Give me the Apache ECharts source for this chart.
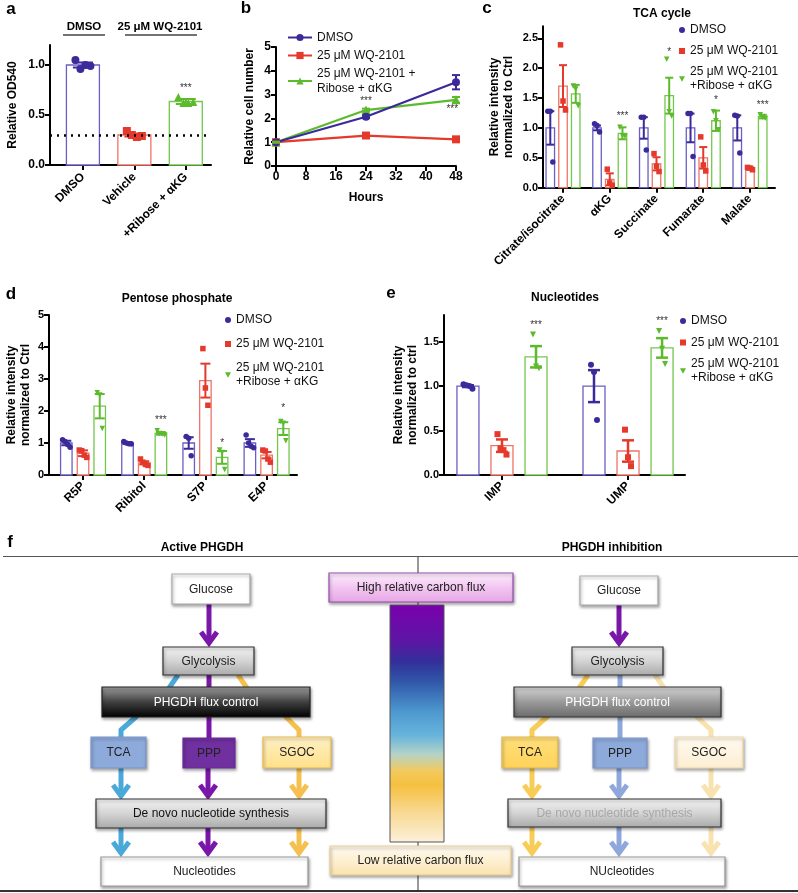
<!DOCTYPE html>
<html><head><meta charset="utf-8">
<script src="https://cdn.jsdelivr.net/npm/echarts@6.0.0/dist/echarts.min.js"></script>
<style>html,body{margin:0;padding:0;background:#fff}#chart{width:798px;height:893px}</style>
</head><body><div id="chart"></div>
<script>
// ---------------- DATA ----------------
const groupLabels = ['DMSO', '25 μM WQ-2101', '25 μM WQ-2101\n+Ribose + αKG'];
const groupLabelsB = ['DMSO', '25 μM WQ-2101', '25 μM WQ-2101 +\nRibose + αKG'];

// panel a
const aCategories = ['DMSO', 'Vehicle', '+Ribose + αKG'];
const aMeans = [1.00, 0.30, 0.635];
const aSem = [0.025, 0.015, 0.025];
const aPoints = [[1.05, 0.96, 1.00, 0.99], [0.34, 0.30, 0.28, 0.29], [0.68, 0.62, 0.62, 0.63]];
const aThreshold = 0.3;
const aStarCat = [2];
const aStarY = [0.77];
const aStarText = ['***'];

// panel b
const bHours = [0, 24, 48];
const bDMSO = [1.0, 2.07, 3.52];
const bDMSOSem = [0.03, 0.06, 0.30];
const bWQ = [1.0, 1.28, 1.12];
const bWQSem = [0.02, 0.06, 0.05];
const bRescue = [1.0, 2.35, 2.78];
const bRescueSem = [0.02, 0.06, 0.12];
const bStarX = [24, 47];
const bStarY = [2.74, 2.38];
const bStarText = ['***', '***'];

// panel c
const cCategories = ['Citrate/isocitrate', 'αKG', 'Succinate', 'Fumarate', 'Malate'];
const cDMSOMean = [1.0, 1.0, 1.0, 1.0, 1.0];
const cDMSOSem = [0.28, 0.04, 0.18, 0.24, 0.21];
const cDMSOPoints = [[1.28, 1.28, 0.43], [1.07, 1.04, 0.93], [1.18, 1.18, 0.63], [1.24, 1.24, 0.52], [1.21, 1.20, 0.58]];
const cWQMean = [1.70, 0.14, 0.40, 0.50, 0.32];
const cWQSem = [0.35, 0.10, 0.11, 0.18, 0.02];
const cWQPoints = [[2.39, 1.45, 1.30], [0.31, 0.08, 0.04], [0.57, 0.36, 0.27], [0.85, 0.38, 0.28], [0.34, 0.33, 0.30]];
const cRescueMean = [1.57, 0.91, 1.54, 1.12, 1.19];
const cRescueSem = [0.15, 0.10, 0.30, 0.17, 0.03];
const cRescuePoints = [[1.70, 1.65, 1.37], [1.01, 0.87, 0.86], [2.15, 1.27, 1.20], [1.27, 1.12, 0.97], [1.22, 1.18, 1.16]];
const cStarCat = [1, 2, 3, 4];
const cStarY = [1.20, 2.27, 1.47, 1.38];
const cStarText = ['***', '*', '*', '***'];

// panel d
const dCategories = ['R5P', 'Ribitol', 'S7P', 'E4P'];
const dDMSOMean = [1.0, 1.0, 1.0, 1.0];
const dDMSOSem = [0.07, 0.03, 0.18, 0.12];
const dDMSOPoints = [[1.10, 1.05, 0.95, 0.87], [1.05, 1.00, 0.98, 0.97], [1.20, 1.15, 0.60], [1.25, 1.00, 0.90, 0.85]];
const dWQMean = [0.68, 0.38, 2.95, 0.62];
const dWQSem = [0.09, 0.05, 0.53, 0.10];
const dWQPoints = [[0.78, 0.76, 0.62, 0.55], [0.50, 0.40, 0.33, 0.30], [3.95, 2.72, 2.18], [0.78, 0.75, 0.50, 0.40]];
const dRescueMean = [2.15, 1.30, 0.55, 1.45];
const dRescueSem = [0.38, 0.04, 0.20, 0.20];
const dRescuePoints = [[2.57, 2.50, 1.45], [1.38, 1.30, 1.28, 1.25], [0.78, 0.70, 0.17], [1.67, 1.62, 1.07]];
const dStarCat = [1, 2, 3];
const dStarY = [1.72, 1.00, 2.10];
const dStarText = ['***', '*', '*'];

// panel e
const eCategories = ['IMP', 'UMP'];
const eDMSOMean = [1.0, 1.0];
const eDMSOSem = [0.01, 0.18];
const eDMSOPoints = [[1.02, 1.01, 1.00, 0.97], [1.24, 1.16, 0.62]];
const eWQMean = [0.33, 0.27];
const eWQSem = [0.07, 0.12];
const eWQPoints = [[0.46, 0.30, 0.28, 0.23], [0.51, 0.20, 0.10]];
const eRescueMean = [1.33, 1.43];
const eRescueSem = [0.12, 0.11];
const eRescuePoints = [[1.58, 1.22, 1.20], [1.62, 1.42, 1.25]];
const eStarCat = [0, 1];
const eStarY = [1.68, 1.73];
const eStarText = ['***', '***'];

// ---------------- STYLE ----------------
const FONT = '"Liberation Sans", Arial, Helvetica, sans-serif';
const COL = ['#3b2a9a', '#e4392b', '#5cba2d'];
const BORDER = ['#6a5fc3', '#ec7468', '#74c74c'];
const TRI_DOWN = 'path://M0,0 L10,0 L5,9 Z';

const series = [];
const grids = [];
const xAxes = [];
const yAxes = [];
const legends = [];
const G = [];

function baseAxis() {
  return {
    axisLine: {show: true, onZero: false, lineStyle: {color: '#000', width: 2}},
    axisTick: {show: true, length: 5, lineStyle: {color: '#000', width: 2}},
    splitLine: {show: false},
    axisLabel: {color: '#000', fontWeight: 'bold', fontSize: 11, fontFamily: FONT, margin: 5}
  };
}

function textEl(p, txt, opt) {
  return {type: 'text', x: p[0], y: p[1], style: Object.assign({
    text: txt, fill: '#333', font: '11px ' + FONT,
    align: 'center', textAlign: 'center', verticalAlign: 'middle', textVerticalAlign: 'middle'
  }, opt || {})};
}

function addBarPanel(P) {
  const nG = P.groups.length;
  const xOf = (i, g) => i + (g - (nG - 1) / 2) * P.offset;
  const barData = [];
  P.groups.forEach((grp, g) => grp.mean.forEach((m, i) => barData.push([xOf(i, g), m, grp.sem[i], g])));
  series.push({
    type: 'custom', coordinateSystem: 'cartesian2d', xAxisIndex: P.gi, yAxisIndex: P.gi, data: barData, z: 2,
    renderItem: (params, api) => {
      const x = api.value(0), m = api.value(1), g = api.value(3);
      const top = api.coord([x, m]), base = api.coord([x, 0]);
      return {type: 'rect', shape: {x: top[0] - P.barW / 2, y: top[1], width: P.barW, height: base[1] - top[1]},
        style: {fill: '#fff', stroke: P.borders[g], lineWidth: 1.3}};
    }
  });
  P.groups.forEach((grp, g) => {
    const data = [];
    grp.points.forEach((pts, i) => pts.forEach((v, k) => data.push({
      value: [xOf(i, g), v], symbolOffset: [(k - (pts.length - 1) / 2) * P.spread, 0]
    })));
    const s = {
      type: 'scatter', xAxisIndex: P.gi, yAxisIndex: P.gi, data, symbol: P.symbols[g], symbolSize: P.ptSize,
      itemStyle: {color: P.colors[g], opacity: 1}, z: 3, silent: true
    };
    if (P.prefix) s.name = P.prefix + '|' + g;
    if (P.markLine && g === 0) s.markLine = P.markLine;
    series.push(s);
  });
  series.push({
    type: 'custom', coordinateSystem: 'cartesian2d', xAxisIndex: P.gi, yAxisIndex: P.gi, data: barData, z: 4,
    renderItem: (params, api) => {
      const x = api.value(0), m = api.value(1), s = api.value(2), g = api.value(3);
      const t = api.coord([x, m + s]), b = api.coord([x, m - s]);
      const c = P.colors[g], hw = P.capW / 2, lw = P.errW;
      return {type: 'group', children: [
        {type: 'line', shape: {x1: t[0], y1: t[1], x2: b[0], y2: b[1]}, style: {stroke: c, lineWidth: lw}},
        {type: 'line', shape: {x1: t[0] - hw, y1: t[1], x2: t[0] + hw, y2: t[1]}, style: {stroke: c, lineWidth: lw}},
        {type: 'line', shape: {x1: b[0] - hw, y1: b[1], x2: b[0] + hw, y2: b[1]}, style: {stroke: c, lineWidth: lw}}
      ]};
    }
  });
  const starData = P.stars.cat.map((c, k) => [P.stars.group < 0 ? c - 1 : xOf(c, P.stars.group), P.stars.y[k], k]);
  series.push({
    type: 'custom', coordinateSystem: 'cartesian2d', xAxisIndex: P.gi, yAxisIndex: P.gi, data: starData, z: 5,
    renderItem: (params, api) => textEl(api.coord([api.value(0), api.value(1)]), P.stars.text[api.value(2)], {font: '10px ' + FONT})
  });
}

function catXAxis(gi, min, max, vals, names, fs, margin) {
  const ax = baseAxis();
  ax.type = 'value'; ax.gridIndex = gi; ax.min = min; ax.max = max;
  ax.axisTick.customValues = vals;
  ax.axisLabel.customValues = vals;
  ax.axisLabel.rotate = 45;
  ax.axisLabel.fontSize = fs;
  ax.axisLabel.margin = margin;
  ax.axisLabel.formatter = v => names[vals.indexOf(v)];
  return ax;
}
function valYAxis(gi, max, vals, digits, name, gap) {
  const ax = baseAxis();
  ax.type = 'value'; ax.gridIndex = gi; ax.min = 0; ax.max = max;
  ax.axisTick.customValues = vals;
  ax.axisLabel.customValues = vals;
  ax.axisLabel.formatter = v => v.toFixed(digits);
  ax.name = name; ax.nameLocation = 'middle'; ax.nameGap = gap; ax.nameRotate = 90;
  ax.nameTextStyle = {color: '#000', fontWeight: 'bold', fontSize: 12, lineHeight: 14, fontFamily: FONT};
  return ax;
}
function legendFor(prefix, labels, left, top, gap, iw, ih, lh) {
  return {
    left, top, orient: 'vertical', itemGap: gap, itemWidth: iw, itemHeight: ih, padding: 0, selectedMode: false,
    data: [0, 1, 2].map(i => prefix + '|' + i),
    formatter: n => labels[+n.split('|')[1]],
    textStyle: {fontSize: 12, lineHeight: lh || 14, color: '#111', fontFamily: FONT}
  };
}

// ---------- panel a (grid 0) ----------
grids.push({left: 50, top: 45, width: 161, height: 120, outerBoundsMode: 'none'});
xAxes.push(catXAxis(0, -1.64, 1.49, [-1, 0, 1], aCategories, 12, 10));
yAxes.push(valYAxis(0, 1.2, [0, 0.5, 1.0], 1, 'Relative OD540', 30));
yAxes[0].axisLabel.fontSize = 12;
addBarPanel({
  gi: 0, offset: 1, barW: 33, capW: 20, ptSize: 8, spread: 5, errW: 2,
  groups: aMeans.map((m, i) => ({mean: [m], sem: [aSem[i]], points: [aPoints[i]]})),
  colors: COL, borders: BORDER, symbols: ['circle', 'rect', 'triangle'],
  stars: {cat: aStarCat, group: -1, y: aStarY, text: aStarText},
  markLine: {silent: true, symbol: 'none', label: {show: false},
    lineStyle: {color: '#000', width: 2.5, type: [2, 5]}, data: [{yAxis: aThreshold}]}
});

// ---------- panel b (grid 1) ----------
grids.push({left: 276, top: 47, width: 180, height: 119, outerBoundsMode: 'none'});
(function () {
  const x = baseAxis();
  x.type = 'value'; x.gridIndex = 1; x.min = 0; x.max = 48; x.interval = 8;
  x.axisLabel.fontSize = 12;
  x.name = 'Hours'; x.nameLocation = 'middle'; x.nameGap = 26;
  x.nameTextStyle = {color: '#000', fontWeight: 'bold', fontSize: 12, fontFamily: FONT};
  xAxes.push(x);
  const y = baseAxis();
  y.type = 'value'; y.gridIndex = 1; y.min = 0; y.max = 5; y.interval = 1;
  y.axisLabel.fontSize = 12;
  y.name = 'Relative cell number'; y.nameLocation = 'middle'; y.nameGap = 20; y.nameRotate = 90;
  y.nameTextStyle = {color: '#000', fontWeight: 'bold', fontSize: 12, fontFamily: FONT};
  yAxes.push(y);
  const defs = [
    {v: bDMSO, s: bDMSOSem, sym: 'circle', size: 8},
    {v: bWQ, s: bWQSem, sym: 'rect', size: 8},
    {v: bRescue, s: bRescueSem, sym: 'triangle', size: 9}
  ];
  const order = [1, 2, 0];
  order.forEach(k => {
    const d = defs[k];
    series.push({
      type: 'line', name: 'b|' + k, xAxisIndex: 1, yAxisIndex: 1,
      data: bHours.map((h, i) => [h, d.v[i]]), symbol: d.sym, symbolSize: d.size,
      lineStyle: {color: COL[k], width: 2.2}, itemStyle: {color: COL[k]}, z: 3 + (k === 0 ? 1 : 0), silent: true
    });
  });
  const errData = [];
  defs.forEach((d, k) => bHours.forEach((h, i) => errData.push([h, d.v[i], d.s[i], k])));
  series.push({
    type: 'custom', coordinateSystem: 'cartesian2d', xAxisIndex: 1, yAxisIndex: 1, data: errData, z: 6,
    renderItem: (params, api) => {
      const x = api.value(0), m = api.value(1), s = api.value(2), k = api.value(3);
      const t = api.coord([x, m + s]), b = api.coord([x, m - s]);
      const c = COL[k], hw = 4;
      return {type: 'group', children: [
        {type: 'line', shape: {x1: t[0], y1: t[1], x2: b[0], y2: b[1]}, style: {stroke: c, lineWidth: 2}},
        {type: 'line', shape: {x1: t[0] - hw, y1: t[1], x2: t[0] + hw, y2: t[1]}, style: {stroke: c, lineWidth: 2}},
        {type: 'line', shape: {x1: b[0] - hw, y1: b[1], x2: b[0] + hw, y2: b[1]}, style: {stroke: c, lineWidth: 2}}
      ]};
    }
  });
  series.push({
    type: 'custom', coordinateSystem: 'cartesian2d', xAxisIndex: 1, yAxisIndex: 1, z: 7,
    data: bStarX.map((h, k) => [h, bStarY[k], k]),
    renderItem: (params, api) => textEl(api.coord([api.value(0), api.value(1)]), bStarText[api.value(2)], {font: '10px ' + FONT})
  });
  legends.push(legendFor('b', groupLabelsB, 287, 30, 3, 24, 9, 15));
})();

// ---------- panel c (grid 2) ----------
grids.push({left: 543, top: 26.3, width: 232, height: 161.4, outerBoundsMode: 'none'});
xAxes.push(catXAxis(2, -0.428, 4.535, [0, 1, 2, 3, 4], cCategories, 12, 9));
yAxes.push(valYAxis(2, 2.7, [0, 0.5, 1.0, 1.5, 2.0, 2.5], 1, 'Relative intensity\nnormalized to Ctrl', 27));
addBarPanel({
  gi: 2, offset: 0.272, barW: 8.5, capW: 8, ptSize: 5.5, spread: 2.5, errW: 2,
  groups: [
    {mean: cDMSOMean, sem: cDMSOSem, points: cDMSOPoints},
    {mean: cWQMean, sem: cWQSem, points: cWQPoints},
    {mean: cRescueMean, sem: cRescueSem, points: cRescuePoints}],
  colors: COL, borders: BORDER, symbols: ['circle', 'rect', TRI_DOWN], prefix: 'c',
  stars: {cat: cStarCat, group: 2, y: cStarY, text: cStarText}
});
legends.push(legendFor('c', groupLabels, 679, 23, 7, 6, 6));

// ---------- panel d (grid 3) ----------
grids.push({left: 49, top: 315, width: 248, height: 160, outerBoundsMode: 'none'});
xAxes.push(catXAxis(3, -0.556, 3.497, [0, 1, 2, 3], dCategories, 12, 9));
yAxes.push(valYAxis(3, 5, [0, 1, 2, 3, 4, 5], 0, 'Relative intensity\nnormalized to Ctrl', 16));
addBarPanel({
  gi: 3, offset: 0.273, barW: 11.5, capW: 10, ptSize: 5.5, spread: 2.5, errW: 2,
  groups: [
    {mean: dDMSOMean, sem: dDMSOSem, points: dDMSOPoints},
    {mean: dWQMean, sem: dWQSem, points: dWQPoints},
    {mean: dRescueMean, sem: dRescueSem, points: dRescuePoints}],
  colors: COL, borders: BORDER, symbols: ['circle', 'rect', TRI_DOWN], prefix: 'd',
  stars: {cat: dStarCat, group: 2, y: dStarY, text: dStarText}
});
legends.push(legendFor('d', groupLabels, 225, 313, 10, 6, 6));

// ---------- panel e (grid 4) ----------
grids.push({left: 444, top: 315, width: 241, height: 160, outerBoundsMode: 'none'});
xAxes.push(catXAxis(4, -0.46, 1.452, [0, 1], eCategories, 12, 9));
yAxes.push(valYAxis(4, 1.8, [0, 0.5, 1.0, 1.5], 1, 'Relative intensity\nnormalized to ctrl', 23));
addBarPanel({
  gi: 4, offset: 0.27, barW: 22, capW: 12, ptSize: 6, spread: 3, errW: 2.5,
  groups: [
    {mean: eDMSOMean, sem: eDMSOSem, points: eDMSOPoints},
    {mean: eWQMean, sem: eWQSem, points: eWQPoints},
    {mean: eRescueMean, sem: eRescueSem, points: eRescuePoints}],
  colors: COL, borders: BORDER, symbols: ['circle', 'rect', TRI_DOWN], prefix: 'e',
  stars: {cat: eStarCat, group: 2, y: eStarY, text: eStarText}
});
legends.push(legendFor('e', groupLabels, 680, 314, 7.5, 6, 6));

// ---------------- GRAPHIC TEXT / DIAGRAM ----------------
function T(x, y, txt, font, fill, z) {
  G.push({type: 'text', x, y, z: z || 20, style: {text: txt, fill: fill || '#000', font,
    align: 'center', textAlign: 'center', verticalAlign: 'middle', textVerticalAlign: 'middle'}});
}
function L(x1, y1, x2, y2, color, w, z) {
  G.push({type: 'line', z: z || 5, shape: {x1, y1, x2, y2}, style: {stroke: color, lineWidth: w}});
}
const BOLD12 = 'bold 12px ' + FONT;
// panel letters
T(11, 9, 'a', 'bold 17px ' + FONT); T(246, 8, 'b', 'bold 17px ' + FONT); T(487, 8, 'c', 'bold 17px ' + FONT);
T(11, 294, 'd', 'bold 17px ' + FONT); T(391, 293, 'e', 'bold 17px ' + FONT); T(10, 542, 'f', 'bold 17px ' + FONT);
// titles
T(662, 14, 'TCA cycle', BOLD12); T(177, 299, 'Pentose phosphate', BOLD12); T(565, 298, 'Nucleotides', BOLD12);
// panel a header
T(84, 27, 'DMSO', 'bold 11.5px ' + FONT); L(63, 35, 105, 35, '#444', 1.5);
T(160, 27, '25 μM WQ-2101', 'bold 11.5px ' + FONT); L(125, 35, 197, 35, '#444', 1.5);

// panel f
T(202, 548, 'Active PHGDH', BOLD12); T(612, 548, 'PHGDH inhibition', BOLD12);
L(3, 556.5, 798, 556.5, '#555', 1.2, 1);
L(418, 557, 418, 891, '#555', 1.2, 1);
L(0, 891, 798, 891, '#333', 2, 1);

function grad(stops) {
  return {type: 'linear', x: 0, y: 0, x2: 0, y2: 1, colorStops: stops.map((c, i) => ({offset: i / (stops.length - 1), color: c}))};
}
function box(x, y, w, h, fill, stroke, txt, tc, shadow) {
  G.push({type: 'rect', z: 10, shape: {x, y, width: w, height: h}, style: {fill, stroke, lineWidth: 1.2,
    shadowBlur: shadow === false ? 0 : 3, shadowOffsetX: 1, shadowOffsetY: 2, shadowColor: 'rgba(0,0,0,0.35)'}});
  if (txt) T(x + w / 2, y + h / 2 + 0.5, txt, '12px ' + FONT, tc || '#222', 11);
}
function arrow(x, y1, y2, color) {
  L(x, y1, x, y2 - 4, color, 5, 6);
  G.push({type: 'polyline', z: 6, shape: {points: [[x - 8, y2 - 15], [x, y2 - 4], [x + 8, y2 - 15]]},
    style: {stroke: color, lineWidth: 5, fill: null, lineJoin: 'miter'}});
}
function conn(points, color) {
  G.push({type: 'polyline', z: 6, shape: {points}, style: {stroke: color, lineWidth: 5, fill: null, lineJoin: 'round'}});
}
const WHITE = '#ffffff';
const GRAYG = grad(['#f4f4f4', '#d4d4d4', '#a9a9a9']);
// Left
const LP = '#7a16a8', LB = '#4aa9d9', LY = '#f5c04f';
arrow(209, 604, 647, LP);
conn([[178, 675], [169, 688]], LB); conn([[209, 675], [209, 688]], LP); conn([[238, 675], [247, 688]], LY);
conn([[137, 716], [121, 730], [121, 738]], LB); conn([[209, 716], [209, 738]], LP); conn([[285, 716], [299, 730], [299, 738]], LY);
arrow(121, 767, 800, LB); arrow(208, 767, 800, LP); arrow(299, 767, 800, LY);
arrow(121, 827, 857, LB); arrow(208, 827, 857, LP); arrow(299, 827, 857, LY);
box(172, 574, 78, 30, WHITE, '#aaaaaa', 'Glucose');
box(163, 647, 91, 28, GRAYG, '#333', 'Glycolysis');
box(102, 687, 208, 30, grad(['#a0a0a0', '#404040', '#000000']), '#222', 'PHGDH flux control', '#ffffff');
box(91, 737, 55, 31, '#8eaadb', '#7d97c9', 'TCA');
box(183, 738, 52, 30, '#7030a0', '#6a2c98', 'PPP', '#222');
box(263, 737, 68, 31, grad(['#fff1c4', '#ffe08a']), '#e8bc55', 'SGOC');
box(96, 799, 230, 29, GRAYG, '#333', 'De novo nucleotide synthesis', '#111');
box(101, 857, 207, 29, WHITE, '#999', 'Nucleotides');
// Center
box(329, 573, 184, 29, grad(['#fdeefd', '#f2c6f1', '#e6a6e5']), '#9a4cb2', 'High relative carbon flux');
G.push({type: 'rect', z: 10, shape: {x: 390, y: 605, width: 54, height: 237}, style: {stroke: '#555', lineWidth: 1,
  fill: {type: 'linear', x: 0, y: 0, x2: 0, y2: 1, colorStops: [
    {offset: 0, color: '#7b00ae'}, {offset: 0.16, color: '#5a17a4'}, {offset: 0.24, color: '#332f9a'},
    {offset: 0.32, color: '#2f55a8'}, {offset: 0.45, color: '#4d98cf'}, {offset: 0.55, color: '#67b4dc'},
    {offset: 0.63, color: '#b5d3c6'}, {offset: 0.70, color: '#f3c95c'}, {offset: 0.76, color: '#f6c040'},
    {offset: 0.86, color: '#f8d68a'}, {offset: 1, color: '#fcf1dc'}]}}});
box(330, 846, 181, 29, grad(['#fffaf0', '#fdf0d2', '#f9e2ad']), '#e9cf96', 'Low relative carbon flux');
// Right
const RY = '#f8cd57', RB = '#8ea8dc', RL = '#f8e2b0';
arrow(619, 605, 647, LP);
conn([[588, 675], [579, 688]], RY); conn([[620, 675], [620, 688]], RB); conn([[655, 675], [664, 688]], RL);
conn([[548, 716], [532, 730], [532, 738]], RY); conn([[620, 716], [620, 738]], RB); conn([[696, 716], [711, 730], [711, 738]], RL);
arrow(532, 767, 800, RY); arrow(619, 767, 800, RB); arrow(711, 767, 800, RL);
arrow(532, 827, 857, RY); arrow(619, 827, 857, RB); arrow(711, 827, 857, RL);
box(580, 576, 78, 29, WHITE, '#aaaaaa', 'Glucose');
box(572, 647, 91, 28, GRAYG, '#333', 'Glycolysis');
box(514, 687, 207, 30, grad(['#d6d6d6', '#9a9a9a', '#6a6a6a']), '#333', 'PHGDH flux control', '#ffffff');
box(502, 737, 56, 31, grad(['#ffdf7a', '#ffd25a']), '#e3b84e', 'TCA');
box(593, 738, 54, 30, '#8eaadb', '#7d97c9', 'PPP');
box(675, 737, 68, 31, grad(['#fffaf0', '#fdeed2']), '#f0d9a8', 'SGOC');
box(508, 799, 213, 28, GRAYG, '#333', 'De novo nucleotide synthesis', '#a8a8a8');
box(519, 857, 206, 29, WHITE, '#999', 'NUcleotides');

const option = {
  animation: false,
  backgroundColor: '#fff',
  textStyle: {fontFamily: FONT},
  grid: grids, xAxis: xAxes, yAxis: yAxes, legend: legends, series,
  graphic: {elements: G}
};
const chart = echarts.init(document.getElementById('chart'), null, {renderer: 'canvas'});
chart.setOption(option);
</script></body></html>
